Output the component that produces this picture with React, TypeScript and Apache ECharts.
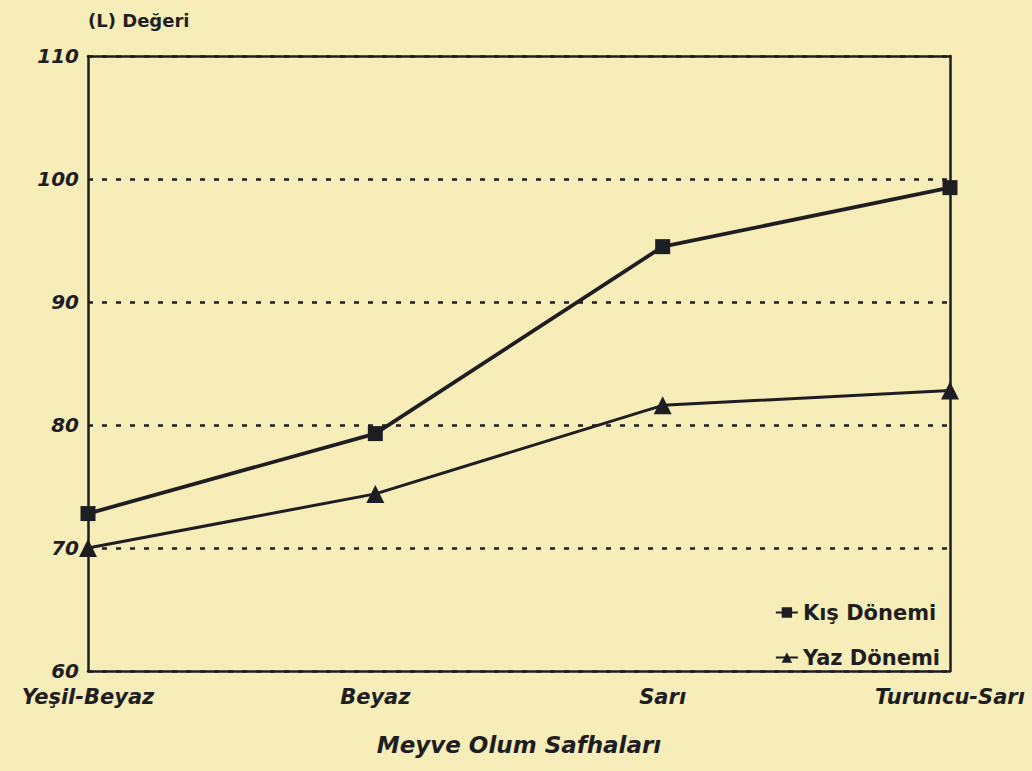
import React, { useEffect, useRef } from "react";
import * as echarts from "echarts";

const categories = ["Yeşil-Beyaz", "Beyaz", "Sarı", "Turuncu-Sarı"];
const kisValues = [72.8, 79.3, 94.5, 99.3];
const yazValues = [70.0, 74.4, 81.6, 82.8];
const yTicks = [60, 70, 80, 90, 100, 110];

const INK = "#1e1e22";
const FONT = "'DejaVu Sans', 'Liberation Sans', Arial, sans-serif";

export default function App() {
  const ref = useRef<HTMLDivElement>(null);
  useEffect(() => {
    if (!ref.current) return;
    const chart = echarts.init(ref.current, undefined, { renderer: "svg" });
    const yMin = yTicks[0];
    const yMax = yTicks[yTicks.length - 1];
    chart.setOption({
      animation: false,
      backgroundColor: "#f6edb9",
      grid: {
        left: 88,
        right: 82,
        top: 56,
        bottom: 100,
        show: false,
      },
      legend: {
        orient: "vertical",
        right: 87,
        top: 597,
        itemGap: 24,
        itemWidth: 22,
        itemHeight: 13,
        textStyle: { color: INK, fontFamily: FONT, fontWeight: "bold", fontSize: 21 },
        data: ["Kış Dönemi", "Yaz Dönemi"],
      },
      xAxis: [
        {
          type: "category",
          boundaryGap: false,
          data: categories,
          name: "Meyve Olum Safhaları",
          nameLocation: "middle",
          nameGap: 62,
          nameTextStyle: { color: INK, fontFamily: FONT, fontWeight: "bold", fontStyle: "italic", fontSize: 23 },
          axisLine: { show: true, lineStyle: { color: INK, width: 2.5 } },
          axisTick: { show: false },
          splitLine: { show: false },
          axisLabel: {
            color: INK,
            fontFamily: FONT,
            fontWeight: "bold",
            fontStyle: "italic",
            fontSize: 21,
            margin: 15,
            interval: 0,
          },
        },
        {
          type: "category",
          position: "top",
          boundaryGap: false,
          data: categories,
          axisLine: { show: true, lineStyle: { color: INK, width: 2.5 } },
          axisTick: { show: false },
          axisLabel: { show: false },
          splitLine: { show: false },
        },
      ],
      yAxis: [
        {
          type: "value",
          min: yMin,
          max: yMax,
          interval: 10,
          name: "(L) Değeri",
          nameLocation: "end",
          nameGap: 27,
          nameTextStyle: { color: INK, fontFamily: FONT, fontWeight: "bold", fontSize: 18, align: "left" },
          axisLine: { show: true, lineStyle: { color: INK, width: 2.5 } },
          axisTick: { show: false },
          splitLine: {
            show: true,
            lineStyle: { color: INK, width: 2.5, type: [5, 9] },
          },
          axisLabel: {
            color: INK,
            fontFamily: FONT,
            fontWeight: "bold",
            fontStyle: "italic",
            fontSize: 20,
            margin: 9,
          },
        },
        {
          type: "value",
          position: "right",
          min: yMin,
          max: yMax,
          interval: 10,
          axisLine: { show: true, lineStyle: { color: INK, width: 2.5 } },
          axisTick: { show: false },
          axisLabel: { show: false },
          splitLine: { show: false },
        },
      ],
      series: [
        {
          name: "Kış Dönemi",
          type: "line",
          data: kisValues,
          symbol: "rect",
          symbolSize: 15,
          lineStyle: { color: INK, width: 3.8 },
          itemStyle: { color: INK },
        },
        {
          name: "Yaz Dönemi",
          type: "line",
          data: yazValues,
          symbol: "triangle",
          symbolSize: 18,
          lineStyle: { color: INK, width: 3 },
          itemStyle: { color: INK },
        },
      ],
    });
    return () => chart.dispose();
  }, []);
  return (
    <div
      ref={ref}
      style={{ position: "fixed", left: 0, top: 0, width: 1032, height: 771 }}
    />
  );
}
